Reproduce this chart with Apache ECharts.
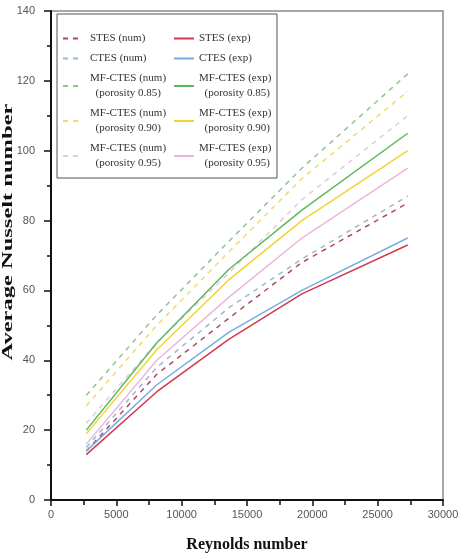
<!DOCTYPE html>
<html>
<head>
<meta charset="utf-8">
<script src="https://cdn.jsdelivr.net/npm/echarts@6/dist/echarts.min.js"></script>
<style>
  html, body { margin: 0; padding: 0; background: #fff; }
  #chart { width: 460px; height: 558px; }
</style>
</head>
<body>
<div id="chart"></div>
<script>
// Reynolds numbers (x) shared by every curve
var reynolds = [2700, 8100, 13600, 19200, 27300];

// numerical (dashed)
var stesNum = [14, 36, 52, 68, 85];
var ctesNum = [15, 38, 55, 69, 87];
var mf085Num = [30, 53, 74, 95, 122];
var mf090Num = [27, 50, 71, 92, 117];
var mf095Num = [22, 45, 65, 86, 110];

// experimental (solid)
var stesExp = [13, 31, 46, 59, 73];
var ctesExp = [14, 33, 48, 60, 75];
var mf085Exp = [20, 45, 66, 83, 105];
var mf090Exp = [19, 43, 63, 80, 100];
var mf095Exp = [16, 40, 58, 75, 95];

var labels = {
  "STES (num)": "STES (num)",
  "STES (exp)": "STES (exp)",
  "CTES (num)": "CTES (num)",
  "CTES (exp)": "CTES (exp)",
  "MF-CTES (num) 0.85": "MF-CTES (num)\n  (porosity 0.85)",
  "MF-CTES (exp) 0.85": "MF-CTES (exp)\n  (porosity 0.85)",
  "MF-CTES (num) 0.90": "MF-CTES (num)\n  (porosity 0.90)",
  "MF-CTES (exp) 0.90": "MF-CTES (exp)\n  (porosity 0.90)",
  "MF-CTES (num) 0.95": "MF-CTES (num)\n  (porosity 0.95)",
  "MF-CTES (exp) 0.95": "MF-CTES (exp)\n  (porosity 0.95)"
};

function pairs(ys) {
  return ys.map(function (y, i) { return [reynolds[i], y]; });
}

function line(name, ys, color, dashed) {
  return {
    name: name,
    type: "line",
    symbol: "none",
    data: pairs(ys),
    lineStyle: {
      color: color,
      width: 1.5,
      type: dashed ? [5, 5] : "solid"
    },
    itemStyle: { color: color }
  };
}

var series = [
  line("MF-CTES (num) 0.95", mf095Num, "#e6c8de", true),
  line("MF-CTES (num) 0.90", mf090Num, "#eedc6a", true),
  line("MF-CTES (num) 0.85", mf085Num, "#8fc48f", true),
  line("CTES (num)", ctesNum, "#9cb8d2", true),
  line("STES (num)", stesNum, "#b0485a", true),
  line("MF-CTES (exp) 0.95", mf095Exp, "#eab6dc", false),
  line("MF-CTES (exp) 0.90", mf090Exp, "#f0d530", false),
  line("MF-CTES (exp) 0.85", mf085Exp, "#5cb85e", false),
  line("CTES (exp)", ctesExp, "#74aee0", false),
  line("STES (exp)", stesExp, "#d43848", false)
];

var legendText = {
  fontFamily: "Liberation Serif",
  fontSize: 11,
  color: "#333",
  lineHeight: 15
};

var chart = echarts.init(document.getElementById("chart"));
chart.setOption({
  backgroundColor: "#fff",
  animation: false,
  grid: {
    left: 51, right: 17, top: 11, bottom: 58,
    outerBoundsMode: "none",
    show: true, borderColor: "#8a8a8a", borderWidth: 1.5
  },
  legend: [
    {
      orient: "vertical",
      left: 57, top: 26,
      itemWidth: 18, itemHeight: 10, itemGap: 5,
      itemStyle: { opacity: 0 },
      data: ["STES (num)", "CTES (num)", "MF-CTES (num) 0.85", "MF-CTES (num) 0.90", "MF-CTES (num) 0.95"],
      formatter: function (n) { return labels[n]; },
      textStyle: Object.assign({ padding: [0, 0, 0, 4] }, legendText)
    },
    {
      orient: "vertical",
      left: 168, top: 26,
      itemWidth: 20, itemHeight: 10, itemGap: 5,
      itemStyle: { opacity: 0 },
      data: ["STES (exp)", "CTES (exp)", "MF-CTES (exp) 0.85", "MF-CTES (exp) 0.90", "MF-CTES (exp) 0.95"],
      formatter: function (n) { return labels[n]; },
      textStyle: legendText
    }
  ],
  graphic: [
    {
      type: "rect",
      shape: { x: 57, y: 14, width: 220, height: 164 },
      style: { fill: "none", stroke: "#555", lineWidth: 1 },
      z: 10
    },
    {
      // y axis title, stretched like the original figure
      type: "text",
      x: 8, y: 232,
      rotation: Math.PI / 2,
      scaleX: 1.75,
      style: {
        text: "Average Nusselt number",
        fontFamily: "Liberation Serif",
        fontWeight: "bold",
        fontSize: 14,
        fill: "#111",
        align: "center",
        verticalAlign: "middle"
      }
    }
  ],
  xAxis: {
    type: "value",
    min: 0, max: 30000, interval: 5000,
    name: "Reynolds number",
    nameLocation: "middle",
    nameGap: 37,
    nameMoveOverlap: false,
    nameTextStyle: { fontFamily: "Liberation Serif", fontWeight: "bold", fontSize: 16, color: "#111" },
    axisLine: { show: true, lineStyle: { color: "#111", width: 2 } },
    axisTick: { show: true, length: 6, lineStyle: { color: "#111", width: 1.5 } },
    minorTick: { show: true, splitNumber: 2, length: 5, lineStyle: { color: "#111", width: 1.5 } },
    axisLabel: {
      fontFamily: "Liberation Sans", fontSize: 11, color: "#555", margin: 9,
      formatter: function (v) { return String(v); }
    },
    splitLine: { show: false }
  },
  yAxis: {
    type: "value",
    min: 0, max: 140, interval: 20,
    axisLine: { show: true, lineStyle: { color: "#111", width: 2 } },
    axisTick: { show: true, length: 7, lineStyle: { color: "#111", width: 1.5 } },
    minorTick: { show: true, splitNumber: 2, length: 4, lineStyle: { color: "#111", width: 1.5 } },
    axisLabel: { fontFamily: "Liberation Sans", fontSize: 11, color: "#555", margin: 16 },
    splitLine: { show: false }
  },
  series: series
});
</script>
</body>
</html>
